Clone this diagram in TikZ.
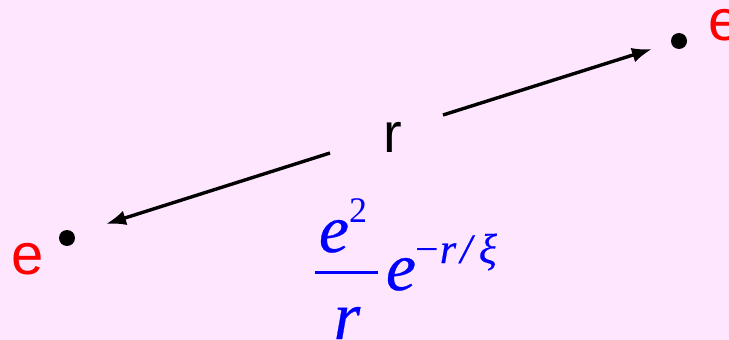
\documentclass[tikz,border=0pt]{standalone}
\usepackage{fontspec}
\setmainfont{Liberation Serif}
\newfontfamily\labelfont{Liberation Sans}
\newfontfamily\tnri[FakeBold=0.4]{Liberation Serif Italic}
\newfontfamily\tnr{Liberation Serif}
\usetikzlibrary{arrows.meta}
\definecolor{bgpink}{RGB}{255,230,255}
\definecolor{ered}{RGB}{255,0,0}
\definecolor{fblue}{RGB}{0,0,255}
\tikzset{
  particle/.style={circle,fill=black,inner sep=0pt,minimum size=16pt},
  elabel/.style={font=\labelfont\fontsize{58}{60}\selectfont,text=ered,inner sep=0pt,anchor=base},
  rlabel/.style={font=\labelfont\fontsize{56}{60}\selectfont,text=black,inner sep=0pt,anchor=base},
  formula/.style={font=\tnri\fontsize{68}{70}\selectfont,text=fblue,inner sep=0pt,anchor=base},
  supscr/.style={font=\tnr\fontsize{36}{40}\selectfont,text=fblue,inner sep=0pt,anchor=base},
  expo/.style={font=\tnri\fontsize{42}{46}\selectfont,text=fblue,inner sep=0pt,anchor=base west},
  conn/.style={line width=3.4pt,-{Latex[length=20pt,width=15pt]}}
}
\begin{document}
\begin{tikzpicture}[x=1pt,y=-1pt]
\fill[bgpink] (0,0) rectangle (729,340);
\useasboundingbox (0,0) rectangle (729,340);
% particles
\node[particle] (pL) at (67,238) {};
\node[particle] (pR) at (679,41) {};
\node[elabel] (eL) at (28,274) {e};
\node[elabel] (eR) at (725,40) {e};
% separation label
\node[rlabel] (r) at (393,152) {r};
% arrows
\coordinate (aLs) at (330,153);
\coordinate (aLt) at (106,224);
\coordinate (aRs) at (443,115);
\coordinate (aRt) at (652,49);
\draw[conn] (aLs) -- (aLt);
\draw[conn] (aRs) -- (aRt);
% formula
\node[formula] (num) at (334,252) {e};
\node[supscr] (sq) at (358,222) {2};
\coordinate (barL) at (315,272);
\coordinate (barR) at (378,272);
\draw[fblue,line width=3pt] (barL) -- (barR);
\node[formula] (den) at (347,339) {r};
\node[formula] (ex) at (401,290) {e};
\node[expo] (pow) at (415,263) {{\tnr −}\hspace{1pt}r\hspace{4pt}/\hspace{7pt}ξ};
\end{tikzpicture}
\end{document}
